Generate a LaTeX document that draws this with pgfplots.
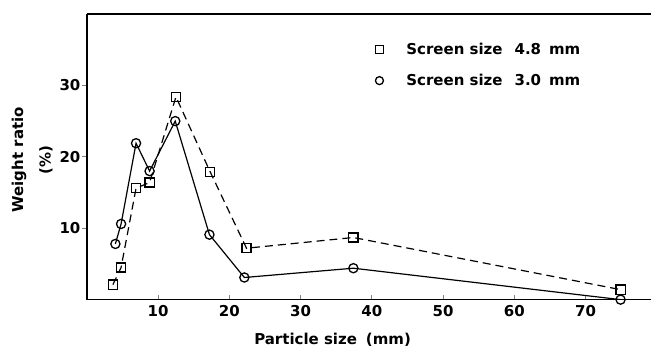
\documentclass[border=0pt]{standalone}
\usepackage{pgfplots}
\pgfplotsset{compat=1.18}
\usepackage{fontspec}
\setmainfont{DejaVu Sans}
\newcommand{\lf}{\bfseries\fontsize{15}{17}\selectfont}
\begin{document}
\begin{tikzpicture}
\begin{axis}[
  scale only axis,
  width=565pt, height=286pt,
  xmin=0, xmax=79.2, ymin=0, ymax=40,
  axis x line*=box, axis y line*=left,
  xtick pos=bottom,
  xtick={10,20,30,40,50,60,70},
  ytick={10,20,30},
  tick align=inside,
  major tick length=5pt,
  ytick style={xshift=-5pt, line width=1pt},
  xtick style={line width=1pt},
  axis line style={line width=1.6pt},
  ticklabel style={font=\lf},
  /pgf/number format/assume math mode=true,
  xticklabel style={yshift=-2pt},
  yticklabel style={xshift=-3pt},
  legend style={draw=none, fill=none, at={(rel axis cs:0.511,0.905)}, anchor=north west,
    font=\lf, row sep=14pt, column sep=21pt, inner sep=0pt},
  legend cell align=left,
  legend image code/.code={\draw[#1] plot coordinates {(0pt,0pt)};},
]
\addlegendimage{only marks, mark=square, mark size=4pt, line width=1.3pt, black}
\addlegendentry{Screen size\hspace{12pt}4.8\hspace{8pt}mm}
\addlegendimage{only marks, mark=o, mark size=4pt, line width=1.3pt, black}
\addlegendentry{Screen size\hspace{12pt}3.0\hspace{8pt}mm}
\addplot[forget plot, black, line width=1.2pt, dash pattern=on 8pt off 5pt, mark=square, mark size=4.6pt, mark options={solid, fill=white, line width=1.3pt}]
coordinates {(3.65,2.1) (4.8,4.5) (6.9,15.6) (8.8,16.4) (12.5,28.4) (17.3,17.9) (22.4,7.2) (37.4,8.7) (74.9,1.4)};
\addplot[forget plot, black, line width=1.2pt, mark=o, mark size=4.6pt, mark options={solid, fill=white, line width=1.3pt}]
coordinates {(4.0,7.8) (4.8,10.6) (6.9,21.9) (8.8,18.0) (12.4,25.0) (17.2,9.1) (22.1,3.1) (37.4,4.4) (74.9,0)};
\end{axis}
\node[rotate=90, font=\lf] at (-68pt,140pt) {Weight ratio};
\node[rotate=90, font=\lf] at (-41pt,140pt) {(\%)};
\node[font=\lf] at (246pt,-40pt) {Particle size\hspace{9pt}(mm)};
\path[use as bounding box] (-87pt,-49pt) rectangle (565pt,300pt);
\end{tikzpicture}
\end{document}
